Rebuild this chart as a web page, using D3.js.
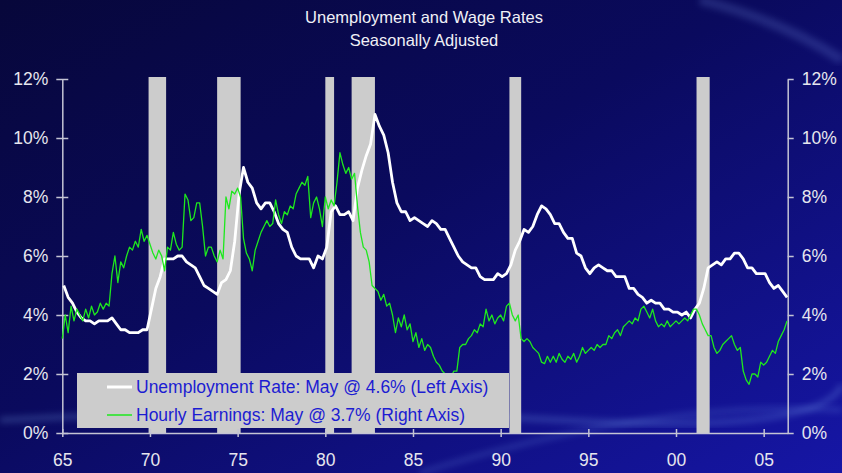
<!DOCTYPE html>
<html>
<head>
<meta charset="utf-8">
<script src="https://cdn.jsdelivr.net/npm/d3@7"></script>
<style>
  html, body { margin: 0; padding: 0; background: #080848; }
  svg { display: block; }
</style>
</head>
<body>
<script>
// unemployment rate, quarterly (Feb, May, Aug, Nov), 1965 - May 2006
var unempRate = [
  5.0, 4.6, 4.4, 4.1,   3.9, 3.8, 3.8, 3.7,   3.8, 3.8, 3.8, 3.9,   3.7, 3.5, 3.5, 3.4,
  3.4, 3.4, 3.5, 3.5,   4.2, 4.9, 5.3, 5.9,   5.9, 5.9, 6.0, 6.0,   5.8, 5.7, 5.6, 5.3,
  5.0, 4.9, 4.8, 4.7,   5.1, 5.2, 5.5, 6.5,   8.1, 9.0, 8.5, 8.3,   7.8, 7.6, 7.8, 7.8,
  7.5, 7.1, 6.9, 6.8,   6.3, 6.0, 5.9, 5.9,   5.9, 5.6, 6.0, 5.9,   6.3, 7.5, 7.7, 7.4,
  7.4, 7.5, 7.2, 8.3,   8.9, 9.4, 9.8, 10.8,  10.4, 10.1, 9.5, 8.5, 7.8, 7.5, 7.5, 7.2,
  7.3, 7.2, 7.1, 7.0,   7.2, 7.1, 6.9, 6.9,   6.6, 6.3, 6.0, 5.8,   5.7, 5.6, 5.6, 5.3,
  5.2, 5.2, 5.2, 5.4,   5.3, 5.4, 5.7, 6.2,   6.5, 6.9, 6.8, 7.0,   7.4, 7.7, 7.6, 7.4,
  7.1, 7.1, 6.8, 6.6,   6.6, 6.1, 6.0, 5.6,   5.4, 5.6, 5.7, 5.6,   5.5, 5.5, 5.3, 5.3,
  5.3, 4.9, 4.9, 4.7,   4.6, 4.4, 4.5, 4.4,   4.4, 4.2, 4.2, 4.1,   4.1, 4.0, 4.1, 3.9,
  4.2, 4.4, 4.9, 5.6,   5.7, 5.8, 5.7, 5.9,   5.9, 6.1, 6.1, 5.9,   5.6, 5.6, 5.4, 5.4,
  5.4, 5.1, 4.9, 5.0,   4.8, 4.6
];

// hourly earnings, y/y %, every other month (Jan, Mar, ... Nov), 1965 - May 2006
var hourlyEarnings = [
  3.2, 4.0, 3.4, 4.3, 3.8, 4.2,   4.0, 3.8, 4.2, 3.9, 4.3, 4.0,   4.1, 4.4, 4.2, 4.4, 4.3, 5.4,
  6.0, 5.1, 5.8, 5.6, 6.0, 6.3,   6.2, 6.5, 6.3, 6.9, 6.5, 6.7,   6.4, 6.1, 5.9, 6.2, 6.0, 5.5,
  6.3, 6.2, 6.8, 6.4, 6.2, 6.3,   8.1, 7.9, 7.2, 7.3, 7.8, 7.8,   7.0, 6.0, 6.3, 6.3, 6.0, 5.8,
  6.2, 5.9, 8.0, 7.6, 8.2, 8.1,   8.3, 8.0, 6.6, 6.1, 5.9, 5.5,   6.2, 6.5, 6.8, 7.0, 7.2, 7.0,
  7.1, 7.9, 7.4, 7.1, 7.5, 7.4,   7.7, 7.6, 8.1, 8.3, 8.5, 8.4,   8.7, 7.3, 7.8, 8.0, 7.6, 7.0,
  8.0, 7.6, 7.9, 7.7, 8.5, 9.5,   9.1, 8.8, 9.0, 8.6, 8.8, 7.7,   6.8, 6.3, 6.2, 5.8, 5.0, 4.9,
  4.8, 4.5, 4.7, 4.3, 4.4, 4.0,   3.4, 3.9, 3.6, 4.0, 3.5, 3.7,   3.1, 3.4, 2.9, 3.2, 2.8, 3.0,
  2.9, 2.6, 2.4, 2.3, 2.1, 2.0,   2.0, 1.9, 2.1, 2.1, 2.9, 3.0,   3.0, 3.2, 3.3, 3.5, 3.4, 3.7,
  3.6, 4.2, 3.8, 4.0, 3.7, 3.9,   4.0, 3.8, 4.3, 4.4, 4.0, 3.8,   4.0, 3.2, 3.1, 3.2, 3.1, 2.9,
  2.8, 2.7, 2.4, 2.35, 2.6, 2.4,  2.6, 2.4, 2.7, 2.5, 2.4, 2.6,   2.5, 2.7, 2.4, 2.6, 2.9, 2.7,
  2.8, 2.9, 2.8, 3.0, 2.9, 3.0,   3.0, 3.3, 3.2, 3.4, 3.5, 3.3,   3.6, 3.7, 3.8, 3.7, 3.9, 3.8,
  4.2, 4.3, 4.1, 3.9, 4.2, 3.8,   3.6, 3.7, 3.6, 3.8, 3.6, 3.7,   3.8, 3.7, 3.8, 3.9, 3.8, 4.0,
  4.2, 4.2, 4.0, 3.7, 3.5, 3.3,   3.3, 2.9, 2.7, 2.8, 3.0, 3.1,   3.2, 3.3, 3.0, 2.8, 2.9, 2.1,
  1.8, 1.65, 2.0, 2.0, 1.9, 2.4,  2.3, 2.4, 2.6, 2.8, 2.7, 3.1,   3.3, 3.5, 3.8
];

// recessions (decimal years)
var recStart = [1969.92, 1973.83, 1980.0, 1981.5, 1990.5, 2001.17];
var recEnd   = [1970.92, 1975.17, 1980.5, 1982.83, 1991.17, 2001.92];

var yearTicks = [1965, 1970, 1975, 1980, 1985, 1990, 1995, 2000, 2005];
var yearLabels = ['65', '70', '75', '80', '85', '90', '95', '00', '05'];
var pctTicks = [0, 2, 4, 6, 8, 10, 12];

var titleLines = ['Unemployment and Wage Rates', 'Seasonally Adjusted'];
var legendLabels = ['Unemployment Rate: May @ 4.6% (Left Axis)', 'Hourly Earnings: May @ 3.7% (Right Axis)'];

var width = 842, height = 473;
var axisColor = '#c4c4d4';
var labelColor = '#e6e6ee';

var svg = d3.select('body')
  .append('svg')
  .attr('width', width)
  .attr('height', height);

//background gradient and light streaks
var defs = svg.append('defs');
var bg = defs.append('linearGradient')
  .attr('id', 'bg')
  .attr('x1', 0).attr('y1', 0).attr('x2', 1).attr('y2', 1);
bg.append('stop').attr('offset', 0).attr('stop-color', '#07073a');
bg.append('stop').attr('offset', 0.45).attr('stop-color', '#0a0a5e');
bg.append('stop').attr('offset', 1).attr('stop-color', '#1616a6');

var blur = defs.append('filter').attr('id', 'blur');
blur.append('feGaussianBlur').attr('stdDeviation', 3);

svg.append('rect')
  .attr('width', width)
  .attr('height', height)
  .attr('fill', 'url(#bg)');

svg.append('path')
  .attr('d', 'M0,420 Q300,405 560,420 T842,385')
  .attr('fill', 'none')
  .attr('stroke', 'rgba(140,190,255,0.22)')
  .attr('stroke-width', 6)
  .attr('filter', 'url(#blur)');
svg.append('path')
  .attr('d', 'M420,473 Q650,400 842,410')
  .attr('fill', 'none')
  .attr('stroke', 'rgba(140,190,255,0.18)')
  .attr('stroke-width', 5)
  .attr('filter', 'url(#blur)');
svg.append('path')
  .attr('d', 'M700,0 Q780,20 842,60')
  .attr('fill', 'none')
  .attr('stroke', 'rgba(140,170,255,0.18)')
  .attr('stroke-width', 10)
  .attr('filter', 'url(#blur)');

var x = d3.scaleLinear()
  .domain([1965, 2006.37])
  .range([62.3, 787.7]);

var y = d3.scaleLinear()
  .domain([0, 12])
  .range([433, 79]);

var plotTop = y(12) - 2;

// title
svg.append('g')
  .selectAll('text')
  .data(titleLines)
  .enter()
  .append('text')
  .attr('x', 424)
  .attr('y', function(d, i) { return 23 + i * 23; })
  .attr('text-anchor', 'middle')
  .attr('fill', '#f0f0f6')
  .style('font-family', '"Liberation Sans Narrow", "Arial Narrow", "Liberation Sans", sans-serif')
  .style('font-size', '16.5px')
  .text(function(d) { return d; });

// recession bars
svg.append('g')
  .selectAll('rect')
  .data(recStart)
  .enter()
  .append('rect')
  .attr('x', function(d) { return x(d); })
  .attr('width', function(d, i) { return x(recEnd[i]) - x(d); })
  .attr('y', plotTop)
  .attr('height', y(0) - plotTop)
  .attr('fill', '#cccccc');

// axes
function styleAxis(g) {
  g.selectAll('.domain').attr('stroke', axisColor).attr('stroke-width', 1.5);
  g.selectAll('.tick line').attr('stroke', axisColor).attr('stroke-width', 1.5);
  g.selectAll('.tick text')
    .attr('fill', labelColor)
    .style('font-family', '"Liberation Sans", Arial, sans-serif')
    .style('font-size', '17.5px');
}

var leftAxis = svg.append('g')
  .attr('transform', 'translate(' + x.range()[0] + ',0)')
  .call(d3.axisLeft(y)
    .tickValues(pctTicks)
    .tickFormat(function(d) { return d + '%'; })
    .tickSize(6)
    .tickSizeOuter(0)
    .tickPadding(8));
leftAxis.selectAll('.tick line').attr('x2', -6).attr('x1', 6);
styleAxis(leftAxis);

var rightAxis = svg.append('g')
  .attr('transform', 'translate(' + x.range()[1] + ',0)')
  .call(d3.axisRight(y)
    .tickValues(pctTicks)
    .tickFormat(function(d) { return d + '%'; })
    .tickSize(6)
    .tickSizeOuter(0)
    .tickPadding(8));
styleAxis(rightAxis);

var bottomAxis = svg.append('g')
  .attr('transform', 'translate(0,' + y(0) + ')')
  .call(d3.axisBottom(x)
    .tickValues(yearTicks)
    .tickFormat(function(d, i) { return yearLabels[i]; })
    .tickSize(4)
    .tickSizeOuter(0)
    .tickPadding(17));
bottomAxis.selectAll('.tick line').attr('y1', -4);
styleAxis(bottomAxis);

// lines
var unempLine = d3.line()
  .x(function(d, i) { return x(1965 + (1 + 3 * i) / 12); })
  .y(function(d) { return y(d); });

var wageLine = d3.line()
  .x(function(d, i) { return x(1965 + (2 * i) / 12); })
  .y(function(d) { return y(d); });

svg.append('path')
  .datum(unempRate)
  .attr('d', unempLine)
  .attr('fill', 'none')
  .attr('stroke', '#ffffff')
  .attr('stroke-width', 2.8)
  .attr('stroke-linejoin', 'round');

svg.append('path')
  .datum(hourlyEarnings)
  .attr('d', wageLine)
  .attr('fill', 'none')
  .attr('stroke', '#1ee81e')
  .attr('stroke-width', 1.3)
  .attr('stroke-linejoin', 'round');

// legend
var legend = svg.append('g');
legend.append('rect')
  .attr('x', 77)
  .attr('y', 373)
  .attr('width', 432)
  .attr('height', 55)
  .attr('fill', '#cccccc');

var legendColors = ['#ffffff', '#1ee81e'];
var legendWidths = [3, 1.5];

legend.selectAll('line')
  .data(legendLabels)
  .enter()
  .append('line')
  .attr('x1', 107)
  .attr('x2', 132)
  .attr('y1', function(d, i) { return 387 + i * 28; })
  .attr('y2', function(d, i) { return 387 + i * 28; })
  .attr('stroke', function(d, i) { return legendColors[i]; })
  .attr('stroke-width', function(d, i) { return legendWidths[i]; });

legend.selectAll('text')
  .data(legendLabels)
  .enter()
  .append('text')
  .attr('x', 136)
  .attr('y', function(d, i) { return 393 + i * 28; })
  .attr('fill', '#1c1cd2')
  .style('font-family', '"Liberation Sans", Arial, sans-serif')
  .style('font-size', '17.5px')
  .text(function(d) { return d; });
</script>
</body>
</html>
